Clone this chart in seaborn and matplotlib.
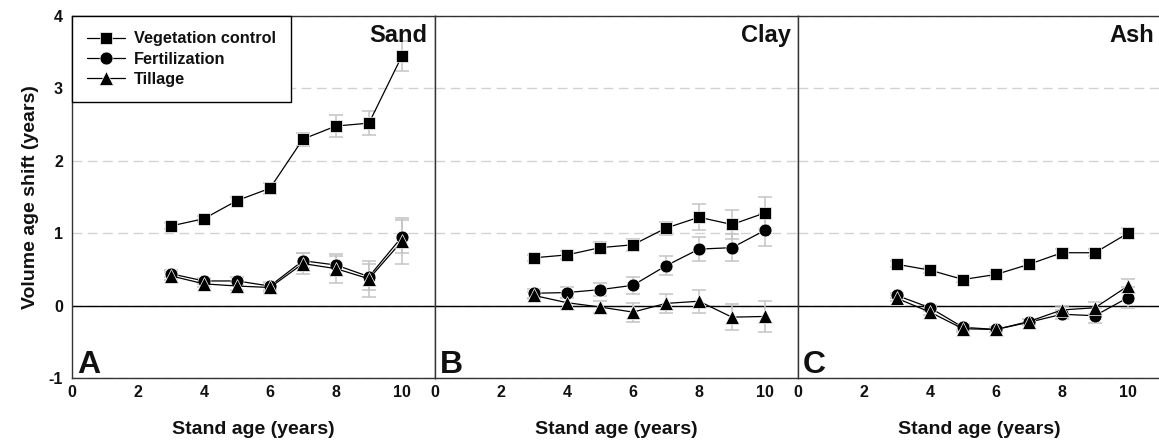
import numpy as np
import pandas as pd
import matplotlib
matplotlib.use("Agg")
import matplotlib.pyplot as plt
import seaborn as sns

# ---------------- data ----------------
ages = [3, 4, 5, 6, 7, 8, 9, 10]
soils = ["Sand", "Clay", "Ash"]
panel_letters = ["A", "B", "C"]
treatments = ["Vegetation control", "Fertilization", "Tillage"]

sand_veg = [1.10, 1.20, 1.45, 1.62, 2.30, 2.48, 2.52, 3.45]
sand_veg_err = [0.04, 0.04, 0.05, 0.08, 0.09, 0.15, 0.17, 0.21]
sand_fert = [0.44, 0.34, 0.34, 0.27, 0.62, 0.56, 0.40, 0.95]
sand_fert_err = [0.05, 0.04, 0.05, 0.06, 0.10, 0.12, 0.18, 0.23]
sand_till = [0.41, 0.30, 0.27, 0.25, 0.58, 0.51, 0.37, 0.89]
sand_till_err = [0.05, 0.04, 0.05, 0.06, 0.15, 0.20, 0.25, 0.32]

clay_veg = [0.66, 0.70, 0.80, 0.84, 1.07, 1.22, 1.12, 1.28]
clay_veg_err = [0.04, 0.05, 0.08, 0.08, 0.09, 0.18, 0.20, 0.22]
clay_fert = [0.17, 0.18, 0.22, 0.28, 0.55, 0.78, 0.80, 1.04]
clay_fert_err = [0.06, 0.07, 0.09, 0.12, 0.13, 0.17, 0.19, 0.22]
clay_till = [0.14, 0.04, -0.02, -0.09, 0.03, 0.06, -0.16, -0.15]
clay_till_err = [0.05, 0.07, 0.08, 0.13, 0.13, 0.16, 0.18, 0.21]

ash_veg = [0.57, 0.49, 0.36, 0.43, 0.57, 0.73, 0.73, 1.00]
ash_veg_err = [0.04, 0.04, 0.04, 0.04, 0.04, 0.05, 0.05, 0.07]
ash_fert = [0.14, -0.03, -0.30, -0.33, -0.23, -0.12, -0.14, 0.11]
ash_fert_err = [0.04, 0.04, 0.04, 0.04, 0.04, 0.06, 0.10, 0.15]
ash_till = [0.10, -0.09, -0.32, -0.33, -0.22, -0.06, -0.03, 0.27]
ash_till_err = [0.04, 0.04, 0.04, 0.04, 0.04, 0.06, 0.08, 0.10]

series = {
    ("Sand", "Vegetation control"): (sand_veg, sand_veg_err),
    ("Sand", "Fertilization"): (sand_fert, sand_fert_err),
    ("Sand", "Tillage"): (sand_till, sand_till_err),
    ("Clay", "Vegetation control"): (clay_veg, clay_veg_err),
    ("Clay", "Fertilization"): (clay_fert, clay_fert_err),
    ("Clay", "Tillage"): (clay_till, clay_till_err),
    ("Ash", "Vegetation control"): (ash_veg, ash_veg_err),
    ("Ash", "Fertilization"): (ash_fert, ash_fert_err),
    ("Ash", "Tillage"): (ash_till, ash_till_err),
}

rows = []
for (soil, trt), (vals, errs) in series.items():
    for a, v, e in zip(ages, vals, errs):
        rows.append({"soil": soil, "treatment": trt, "age": a, "shift": v, "err": e})
df = pd.DataFrame(rows)

# ---------------- style ----------------
sns.set_theme(style="white")
plt.rcParams["font.family"] = ["Liberation Sans", "DejaVu Sans"]
plt.rcParams["font.weight"] = "bold"
plt.rcParams["axes.labelweight"] = "bold"
plt.rcParams["axes.unicode_minus"] = False

markers = {"Vegetation control": "s", "Fertilization": "o", "Tillage": "^"}
msizes = {"Vegetation control": 8.3, "Fertilization": 9.3, "Tillage": 9.8}

fig, axes = plt.subplots(1, 3, figsize=(11.59, 4.48), dpi=100, sharey=True)
fig.subplots_adjust(left=0.0621, right=1.0017, bottom=0.1563, top=0.9643, wspace=0)

for i, (ax, soil, letter) in enumerate(zip(axes, soils, panel_letters)):
    sub = df[df["soil"] == soil]
    ax.set_xlim(0, 11)
    ax.set_ylim(-1, 4)
    ax.set_xticks([0, 2, 4, 6, 8, 10])
    ax.set_yticks([-1, 0, 1, 2, 3, 4])
    ax.grid(axis="y", color="#d2d2d2", lw=1, ls=(0, (7, 4)))
    ax.grid(axis="x", visible=False)
    ax.set_axisbelow(True)
    ax.axhline(0, color="black", lw=1, zorder=1.5)

    for j, trt in enumerate(treatments):
        d = sub[sub["treatment"] == trt]
        ax.errorbar(d["age"], d["shift"], yerr=d["err"], fmt="none",
                    ecolor="#c4c4c4", elinewidth=1.1, capsize=4.7,
                    capthick=1.1, zorder=2)
    for j, trt in enumerate(treatments):
        d = sub[sub["treatment"] == trt]
        sns.lineplot(data=d, x="age", y="shift", ax=ax, color="black", lw=0.9,
                     marker=markers[trt], markersize=msizes[trt],
                     markeredgecolor="white", markeredgewidth=0.5,
                     label=trt, legend=(i == 0), zorder=3 + j)

    for sp in ax.spines.values():
        sp.set_color("#333333")
        sp.set_linewidth(1)
    ax.tick_params(axis="both", direction="in", length=4, width=1,
                   color="#666666", labelsize=11.5, labelcolor="#111111")
    ax.tick_params(axis="x", pad=5)
    ax.tick_params(axis="y", pad=6.5)
    if i > 0:
        ax.tick_params(axis="y", labelleft=False)
        ax.set_ylabel("")
    else:
        ax.set_ylabel("Volume age shift (years)", fontsize=14,
                      fontweight="bold", labelpad=7, color="#111111")
    ax.set_xlabel("Stand age (years)", fontsize=14, fontweight="bold",
                  labelpad=15, color="#111111")

    ax.text(0.98, 0.978, soil, transform=ax.transAxes, ha="right", va="top",
            fontsize=17, fontweight="bold", color="#111111")
    ax.text(0.014, 0.014, letter, transform=ax.transAxes, ha="left",
            va="baseline", fontsize=23, fontweight="bold", color="#111111")

handles, labels = axes[0].get_legend_handles_labels()
leg = axes[0].legend(handles[:3], labels[:3], loc="upper left",
                     bbox_to_anchor=(0, 1), borderaxespad=0, fontsize=11.7,
                     frameon=True, fancybox=False, framealpha=1,
                     edgecolor="black", borderpad=0.95, labelspacing=0.32,
                     handlelength=2.3, handletextpad=0.55)
leg.get_frame().set_linewidth(1)
for t in leg.get_texts():
    t.set_fontweight("bold")
    t.set_color("#111111")

fig.savefig("out.png", dpi=100)
